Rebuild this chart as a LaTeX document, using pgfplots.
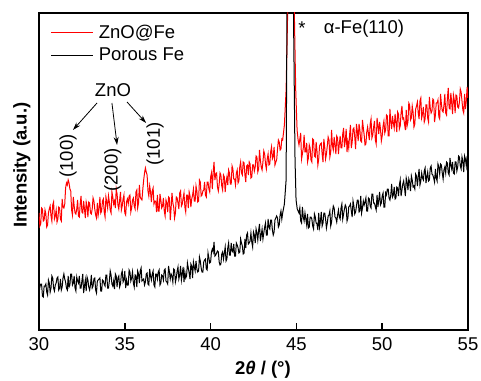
\documentclass[border=0pt]{standalone}
\usepackage{pgfplots}
\pgfplotsset{compat=1.18}
\usepackage{pgfplotstable}
\usepackage{fontspec}
\setmainfont{Liberation Sans}
\usetikzlibrary{arrows.meta}

\pgfplotstableread{
x y
30.0 117
30.05 104
30.1 106
30.15 122
30.2 121
30.25 109
30.3 110
30.35 120
30.4 116
30.45 103
30.5 105
30.55 117
30.6 121
30.65 124
30.7 114
30.75 109
30.8 125
30.85 128
30.9 111
30.95 114
31.0 120
31.05 108
31.1 111
31.15 123
31.2 122
31.25 111
31.3 109
31.35 131
31.4 123
31.45 122
31.5 126
31.55 142
31.6 147
31.65 145
31.7 150
31.75 147
31.8 141
31.85 139
31.9 120
31.95 115
32.0 133
32.05 124
32.1 117
32.15 116
32.2 121
32.25 130
32.3 114
32.35 113
32.4 126
32.45 134
32.5 118
32.55 117
32.6 129
32.65 121
32.7 112
32.75 128
32.8 124
32.85 113
32.9 128
32.95 127
33.0 117
33.05 116
33.1 121
33.15 132
33.2 129
33.25 121
33.3 115
33.35 112
33.4 127
33.45 115
33.5 121
33.55 133
33.6 117
33.65 119
33.7 129
33.75 131
33.8 118
33.85 113
33.9 133
33.95 128
34.0 122
34.05 134
34.1 128
34.15 120
34.2 117
34.25 138
34.3 133
34.35 126
34.4 129
34.45 122
34.5 141
34.55 136
34.6 125
34.65 121
34.7 130
34.75 138
34.8 120
34.85 124
34.9 131
34.95 135
35.0 117
35.05 115
35.1 128
35.15 131
35.2 126
35.25 134
35.3 135
35.35 118
35.4 122
35.45 130
35.5 132
35.55 124
35.6 121
35.65 138
35.7 140
35.75 122
35.8 127
35.85 145
35.9 133
35.95 131
36.0 130
36.05 141
36.1 150
36.15 157
36.2 162
36.25 158
36.3 155
36.35 139
36.4 134
36.45 144
36.5 138
36.55 128
36.6 139
36.65 142
36.7 126
36.75 129
36.8 129
36.85 118
36.9 135
36.95 119
37.0 119
37.05 136
37.1 130
37.15 122
37.2 124
37.25 132
37.3 119
37.35 114
37.4 130
37.45 127
37.5 118
37.55 133
37.6 132
37.65 110
37.7 122
37.75 137
37.8 127
37.85 123
37.9 112
37.95 117
38.0 133
38.05 132
38.1 127
38.15 121
38.2 137
38.25 139
38.3 124
38.35 126
38.4 132
38.45 137
38.5 123
38.55 118
38.6 135
38.65 135
38.7 122
38.75 138
38.8 134
38.85 123
38.9 131
38.95 135
39.0 141
39.05 129
39.1 129
39.15 144
39.2 139
39.25 128
39.3 129
39.35 150
39.4 148
39.45 134
39.5 135
39.55 139
39.6 140
39.65 148
39.7 135
39.75 133
39.8 148
39.85 148
39.9 141
39.95 138
40.0 153
40.05 157
40.1 141
40.15 158
40.2 168
40.25 150
40.3 156
40.35 157
40.4 143
40.45 139
40.5 146
40.55 157
40.6 155
40.65 144
40.7 140
40.75 155
40.8 153
40.85 138
40.9 148
40.95 153
41.0 145
41.05 160
41.1 157
41.15 146
41.2 146
41.25 164
41.3 161
41.35 151
41.4 151
41.45 145
41.5 157
41.55 160
41.6 147
41.65 149
41.7 163
41.75 168
41.8 157
41.85 155
41.9 168
41.95 167
42.0 155
42.05 148
42.1 164
42.15 165
42.2 155
42.25 168
42.3 166
42.35 152
42.4 153
42.45 165
42.5 165
42.55 159
42.6 163
42.65 174
42.7 173
42.75 158
42.8 161
42.85 180
42.9 170
42.95 163
43.0 160
43.05 168
43.1 179
43.15 176
43.2 166
43.25 161
43.3 171
43.35 176
43.4 165
43.45 166
43.5 178
43.55 183
43.6 171
43.65 173
43.7 183
43.75 165
43.8 168
43.85 170
43.9 181
43.95 190
44.0 188
44.05 180
44.1 181
44.15 191
44.2 190
44.3 205
44.4 240
44.49 317
44.58 500
44.68 800
44.78 500
44.88 317
44.96 240
45.04 200
45.1 190
45.15 185
45.2 191
45.25 197
45.3 171
45.35 176
45.4 182
45.45 195
45.5 178
45.55 178
45.6 187
45.65 168
45.7 172
45.75 185
45.8 182
45.85 170
45.9 168
45.95 191
46.0 190
46.05 174
46.1 173
46.15 188
46.2 179
46.25 165
46.3 171
46.35 184
46.4 186
46.45 187
46.5 176
46.55 168
46.6 191
46.65 183
46.7 171
46.75 176
46.8 184
46.85 193
46.9 190
46.95 173
47.0 178
47.05 200
47.1 184
47.15 180
47.2 193
47.25 185
47.3 176
47.35 194
47.4 192
47.45 176
47.5 186
47.55 194
47.6 182
47.65 182
47.7 196
47.75 202
47.8 183
47.85 189
47.9 201
47.95 178
48.0 188
48.05 182
48.1 195
48.15 205
48.2 182
48.25 188
48.3 201
48.35 202
48.4 193
48.45 181
48.5 206
48.55 199
48.6 189
48.65 206
48.7 200
48.75 189
48.8 188
48.85 210
48.9 202
48.95 195
49.0 185
49.05 186
49.1 198
49.15 203
49.2 196
49.25 190
49.3 206
49.35 211
49.4 192
49.45 195
49.5 203
49.55 209
49.6 190
49.65 186
49.7 212
49.75 205
49.8 196
49.85 208
49.9 201
49.95 189
50.0 194
50.05 204
50.1 209
50.15 197
50.2 200
50.25 215
50.3 214
50.35 194
50.4 194
50.45 221
50.5 208
50.55 201
50.6 214
50.65 207
50.7 202
50.75 216
50.8 208
50.85 198
50.9 218
50.95 216
51.0 201
51.05 204
51.1 217
51.15 224
51.2 211
51.25 212
51.3 206
51.35 200
51.4 220
51.45 204
51.5 208
51.55 227
51.6 225
51.65 210
51.7 212
51.75 224
51.8 218
51.85 203
51.9 206
51.95 221
52.0 224
52.05 228
52.1 217
52.15 211
52.2 229
52.25 232
52.3 212
52.35 216
52.4 223
52.45 208
52.5 211
52.55 225
52.6 225
52.65 212
52.7 208
52.75 233
52.8 222
52.85 217
52.9 219
52.95 231
53.0 230
53.05 208
53.1 215
53.15 227
53.2 227
53.25 230
53.3 213
53.35 211
53.4 236
53.45 226
53.5 219
53.55 218
53.6 225
53.65 236
53.7 217
53.75 215
53.8 232
53.85 242
53.9 222
53.95 221
54.0 237
54.05 227
54.1 216
54.15 235
54.2 230
54.25 217
54.3 235
54.35 234
54.4 223
54.45 222
54.5 228
54.55 241
54.6 238
54.65 229
54.7 220
54.75 217
54.8 236
54.85 221
54.9 229
54.95 243
55.0 232
}\redtable

\pgfplotstableread{
x y
30.0 36
30.05 43
30.1 46
30.15 46
30.2 34
30.25 33
30.3 44
30.35 44
30.4 46
30.45 38
30.5 35
30.55 50
30.6 47
30.65 38
30.7 42
30.75 54
30.8 52
30.85 42
30.9 39
30.95 45
31.0 47
31.05 52
31.1 53
31.15 40
31.2 42
31.25 51
31.3 40
31.35 43
31.4 52
31.45 56
31.5 51
31.55 48
31.6 42
31.65 40
31.7 54
31.75 43
31.8 45
31.85 56
31.9 56
31.95 45
32.0 47
32.05 54
32.1 42
32.15 39
32.2 53
32.25 49
32.3 47
32.35 54
32.4 42
32.45 42
32.5 49
32.55 56
32.6 37
32.65 44
32.7 50
32.75 39
32.8 53
32.85 50
32.9 43
32.95 40
33.0 45
33.05 55
33.1 42
33.15 44
33.2 51
33.25 52
33.3 40
33.35 37
33.4 49
33.45 50
33.5 51
33.55 52
33.6 39
33.65 39
33.7 50
33.75 49
33.8 46
33.85 44
33.9 55
33.95 55
34.0 42
34.05 42
34.1 49
34.15 59
34.2 55
34.25 46
34.3 44
34.35 49
34.4 41
34.45 56
34.5 54
34.55 43
34.6 52
34.65 54
34.7 43
34.75 46
34.8 56
34.85 59
34.9 48
34.95 50
35.0 59
35.05 42
35.1 50
35.15 45
35.2 45
35.25 60
35.3 58
35.35 49
35.4 52
35.45 58
35.5 47
35.55 43
35.6 55
35.65 54
35.7 43
35.75 59
35.8 56
35.85 47
35.9 59
35.95 62
36.0 49
36.05 50
36.1 51
36.15 45
36.2 48
36.25 56
36.3 57
36.35 46
36.4 45
36.45 61
36.5 54
36.55 50
36.6 56
36.65 59
36.7 45
36.75 43
36.8 56
36.85 56
36.9 51
36.95 58
37.0 60
37.05 45
37.1 47
37.15 55
37.2 54
37.25 50
37.3 60
37.35 61
37.4 49
37.45 48
37.5 46
37.55 64
37.6 58
37.65 51
37.7 56
37.75 54
37.8 48
37.85 61
37.9 60
37.95 48
38.0 52
38.05 59
38.1 63
38.15 51
38.2 55
38.25 64
38.3 50
38.35 56
38.4 63
38.45 48
38.5 58
38.55 52
38.6 54
38.65 67
38.7 62
38.75 57
38.8 51
38.85 66
38.9 64
38.95 52
39.0 68
39.05 63
39.1 59
39.15 69
39.2 61
39.25 58
39.3 59
39.35 73
39.4 69
39.45 62
39.5 58
39.55 58
39.6 68
39.65 70
39.7 71
39.75 61
39.8 60
39.85 77
39.9 72
39.95 67
40.0 68
40.05 78
40.1 81
40.15 78
40.2 88
40.25 74
40.3 75
40.35 77
40.4 79
40.45 78
40.5 68
40.55 65
40.6 66
40.65 76
40.7 78
40.75 71
40.8 77
40.85 83
40.9 69
40.95 71
41.0 82
41.05 87
41.1 75
41.15 75
41.2 87
41.25 79
41.3 78
41.35 86
41.4 74
41.45 74
41.5 87
41.55 85
41.6 82
41.65 77
41.7 78
41.75 91
41.8 87
41.85 84
41.9 76
41.95 77
42.0 91
42.05 82
42.1 95
42.15 97
42.2 86
42.25 87
42.3 89
42.35 97
42.4 88
42.45 83
42.5 98
42.55 95
42.6 87
42.65 101
42.7 97
42.75 90
42.8 100
42.85 106
42.9 89
42.95 95
43.0 101
43.05 91
43.1 97
43.15 103
43.2 107
43.25 95
43.3 95
43.35 111
43.4 103
43.45 101
43.5 110
43.55 110
43.6 100
43.65 95
43.7 98
43.75 110
43.8 112
43.85 114
43.9 112
43.95 103
44.0 105
44.05 115
44.1 119
44.15 111
44.2 117
44.3 126
44.4 150
44.45 317
44.55 600
44.64 900
44.73 600
44.83 317
44.92 170
44.98 130
45.05 121
45.1 119
45.15 117
45.2 122
45.25 109
45.3 107
45.35 123
45.4 113
45.45 109
45.5 117
45.55 111
45.6 105
45.65 116
45.7 102
45.75 103
45.8 113
45.85 113
45.9 111
45.95 104
46.0 101
46.05 116
46.1 113
46.15 107
46.2 106
46.25 100
46.3 117
46.35 103
46.4 109
46.45 118
46.5 104
46.55 107
46.6 117
46.65 117
46.7 111
46.75 102
46.8 107
46.85 114
46.9 115
46.95 119
47.0 104
47.05 108
47.1 118
47.15 124
47.2 122
47.25 113
47.3 112
47.35 108
47.4 115
47.45 120
47.5 113
47.55 111
47.6 122
47.65 126
47.7 111
47.75 116
47.8 121
47.85 125
47.9 123
47.95 109
48.0 112
48.05 123
48.1 124
48.15 126
48.2 119
48.25 113
48.3 129
48.35 124
48.4 116
48.45 118
48.5 124
48.55 130
48.6 130
48.65 118
48.7 119
48.75 134
48.8 117
48.85 122
48.9 129
48.95 125
49.0 128
49.05 132
49.1 119
49.15 119
49.2 132
49.25 131
49.3 124
49.35 122
49.4 136
49.45 136
49.5 127
49.55 127
49.6 123
49.65 120
49.7 135
49.75 123
49.8 130
49.85 138
49.9 125
49.95 127
50.0 134
50.05 137
50.1 123
50.15 123
50.2 137
50.25 135
50.3 141
50.35 141
50.4 132
50.45 130
50.5 135
50.55 146
50.6 133
50.65 135
50.7 143
50.75 131
50.8 132
50.85 143
50.9 142
50.95 134
51.0 145
51.05 150
51.1 134
51.15 140
51.2 146
51.25 149
51.3 142
51.35 134
51.4 152
51.45 148
51.5 140
51.55 151
51.6 148
51.65 139
51.7 154
51.75 150
51.8 143
51.85 144
51.9 141
51.95 156
52.0 154
52.05 144
52.1 153
52.15 161
52.2 145
52.25 149
52.3 157
52.35 152
52.4 150
52.45 159
52.5 162
52.55 147
52.6 153
52.65 158
52.7 149
52.75 150
52.8 162
52.85 164
52.9 156
52.95 155
53.0 152
53.05 148
53.1 161
53.15 152
53.2 149
53.25 166
53.3 163
53.35 156
53.4 166
53.45 165
53.5 157
53.55 151
53.6 160
53.65 163
53.7 157
53.75 168
53.8 167
53.85 157
53.9 155
53.95 172
54.0 165
54.05 161
54.1 168
54.15 157
54.2 156
54.25 168
54.3 168
54.35 159
54.4 163
54.45 174
54.5 173
54.55 164
54.6 161
54.65 173
54.7 169
54.75 158
54.8 174
54.85 171
54.9 164
54.95 174
55.0 162
}\blacktable

\begin{document}
\begin{tikzpicture}
\useasboundingbox (-39pt,-50pt) rectangle (442pt,330pt);
\begin{axis}[
  at={(0pt,0pt)}, anchor=south west,
  scale only axis, width=429pt, height=317pt,
  xmin=30, xmax=55, ymin=0, ymax=317,
  xtick={30,35,40,45,50,55}, ytick=\empty,
  xtick pos=bottom, tick align=inside, major tick length=7pt,
  axis line style={line width=1.5pt},
  every tick/.style={line width=1.5pt, black},
  /pgf/number format/assume math mode=true,
  tick label style={font=\fontsize{18.5}{21}\selectfont},
  xticklabel style={yshift=-4pt},
  xlabel={\textbf{2\textit{θ} / (°)}},
  ylabel={\textbf{Intensity (a.u.)}},
  label style={font=\fontsize{18.5}{21}\selectfont},
  xlabel style={at={(axis description cs:0.522,-0.126)}, anchor=center},
  ylabel style={at={(axis description cs:-0.04,0.52)}, anchor=center},
  legend style={at={(axis description cs:0.02,0.975)}, anchor=north west,
    draw=none, fill=none, font=\fontsize{18.5}{21}\selectfont, row sep=4pt},
  legend cell align=left,
  legend image code/.code={\draw[#1] (0pt,0pt) -- (42pt,0pt); \path (45pt,0pt);},
]
\addplot[red, line width=1pt] table[x=x,y=y] {\redtable};
\addlegendentry{ZnO@Fe}
\addplot[black, line width=1pt] table[x=x,y=y] {\blacktable};
\addlegendentry{Porous Fe}

\node[font=\fontsize{18.5}{21}\selectfont] at (axis cs:34.31,240) {ZnO};
\draw[-{Stealth[length=8pt,width=5pt]}, line width=0.8pt] (axis cs:33.38,227) -- (axis cs:31.98,200);
\draw[-{Stealth[length=8pt,width=5pt]}, line width=0.8pt] (axis cs:34.25,227) -- (axis cs:34.55,185);
\draw[-{Stealth[length=8pt,width=5pt]}, line width=0.8pt] (axis cs:35.13,228) -- (axis cs:36.24,207);
\node[rotate=90, font=\fontsize{18.5}{21}\selectfont] at (axis cs:31.69,174) {(100)};
\node[rotate=90, font=\fontsize{18.5}{21}\selectfont] at (axis cs:34.31,160) {(200)};
\node[rotate=90, font=\fontsize{18.5}{21}\selectfont] at (axis cs:36.76,186) {(101)};
\node[font=\fontsize{18.5}{21}\selectfont] at (axis cs:45.33,302) {*};
\node[font=\fontsize{18.5}{21}\selectfont] at (axis cs:48.94,301) {α-Fe(110)};
\end{axis}
\end{tikzpicture}
\end{document}
